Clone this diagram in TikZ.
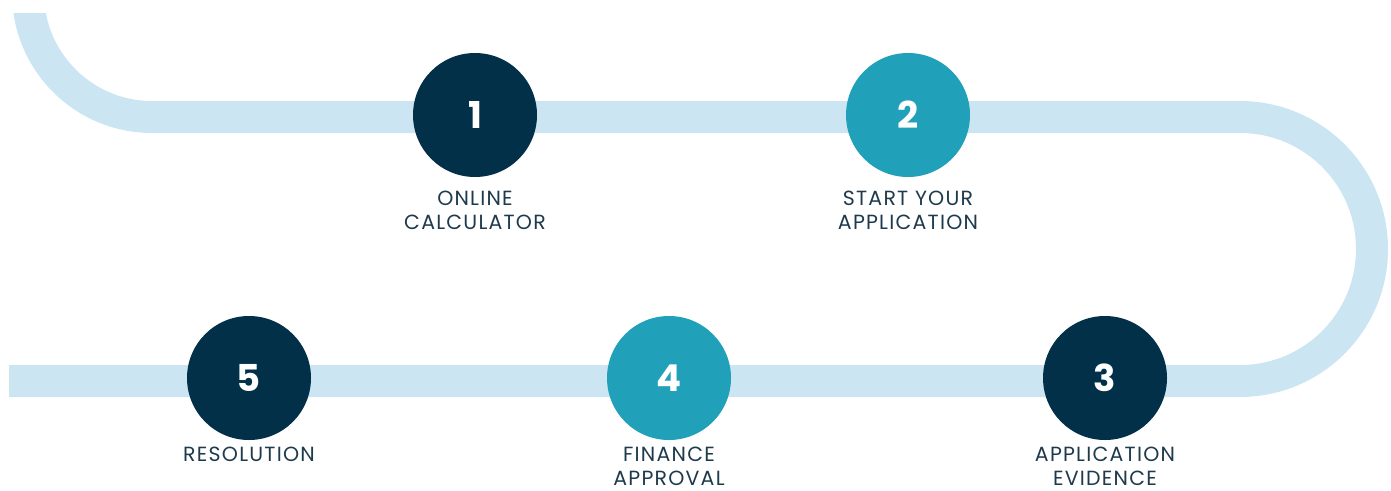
\documentclass[tikz,border=0pt]{standalone}
\usepackage{fontspec}
\setmainfont{Poppins}
\newfontfamily\labelfont[LetterSpace=6]{Poppins}
\definecolor{band}{HTML}{CBE6F2}
\definecolor{navy}{HTML}{033049}
\definecolor{teal}{HTML}{21A0BA}
\definecolor{txt}{HTML}{1E3A4C}
\begin{document}
\begin{tikzpicture}[x=1pt,y=1pt,yscale=-1,
  bandline/.style={draw=band,line width=32pt,line cap=butt},
  stepdark/.style={circle,fill=navy,minimum size=124pt,inner sep=0pt,text=white,font=\fontsize{37}{37}\selectfont\bfseries},
  steplight/.style={stepdark,fill=teal},
  steplabel/.style={text=txt,align=center,font=\labelfont\fontsize{20.5}{23.5}\selectfont,anchor=north,inner ysep=0pt}]
\useasboundingbox (0,0) rectangle (1391,490);
% band
\begin{scope}
\clip (0,13) rectangle (1391,490);
\draw[bandline] (28,-7) arc[start angle=180,end angle=90,radius=124] -- (1240,117)
  arc[start angle=270,end angle=450,radius=132] -- (9,381);
\end{scope}
% circles
\node[stepdark]  (s1) at (475,115) {1};
\node[steplight] (s2) at (908,115) {2};
\node[stepdark]  (s3) at (1105,378) {3};
\node[steplight] (s4) at (669,378) {4};
\node[stepdark]  (s5) at (249,378) {5};
% labels
\node[steplabel] (l1) at (475,191) {ONLINE\\CALCULATOR};
\node[steplabel] (l2) at (908,191) {START YOUR\\APPLICATION};
\node[steplabel] (l3) at (1105,447) {APPLICATION\\EVIDENCE};
\node[steplabel] (l4) at (669,447) {FINANCE\\APPROVAL};
\node[steplabel] (l5) at (249,447) {RESOLUTION};
\end{tikzpicture}
\end{document}
